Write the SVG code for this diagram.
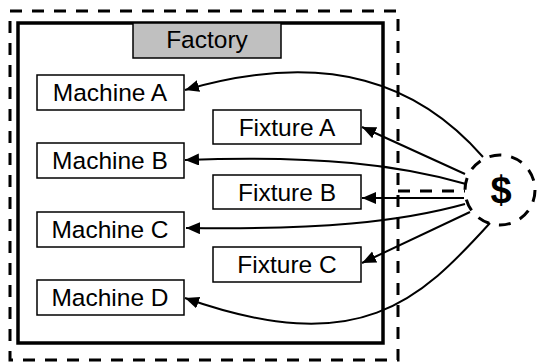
<svg xmlns="http://www.w3.org/2000/svg" width="537" height="362" viewBox="0 0 537 362">
  <style>
    .lbl { font-family: "Liberation Sans", Arial, sans-serif; font-size: 24.5px; fill: #000; text-anchor: middle; }
    .box { fill: #fff; stroke: #000; stroke-width: 1.5; }
    .title { fill: #c0c0c0; stroke: #000; stroke-width: 1.5; }
    .dash { fill: none; stroke: #000; stroke-width: 3; stroke-dasharray: 12 10; }
    .wire { fill: none; stroke: #000; stroke-width: 2; marker-end: url(#head); }
  </style>
  <defs>
    <marker id="head" markerUnits="userSpaceOnUse" markerWidth="16" markerHeight="14" refX="14" refY="6" orient="auto">
      <path d="M0,0 L14,6 L0,12 Z" fill="#000"/>
    </marker>
  </defs>

  <rect width="537" height="362" fill="#fff"/>

  <!-- outer boundary and link to the funding source -->
  <g id="boundary">
    <rect class="dash" x="10" y="11" width="388" height="349"/>
    <line class="dash" x1="398" y1="191" x2="465" y2="191"/>
  </g>

  <!-- factory container -->
  <g id="factory">
    <rect x="18" y="23" width="365" height="320" fill="none" stroke="#000" stroke-width="3.5"/>
    <rect class="title" x="133" y="23" width="148" height="35"/>
    <text class="lbl" x="207" y="48">Factory</text>
  </g>

  <g id="machine-a"><rect class="box" x="37" y="75" width="147" height="35"/><text class="lbl" x="110" y="100.5">Machine A</text></g>
  <g id="machine-b"><rect class="box" x="37" y="143" width="147" height="35"/><text class="lbl" x="110" y="168.5">Machine B</text></g>
  <g id="machine-c"><rect class="box" x="37" y="212" width="147" height="35"/><text class="lbl" x="110" y="237.5">Machine C</text></g>
  <g id="machine-d"><rect class="box" x="37" y="280" width="147" height="35"/><text class="lbl" x="110" y="305.5">Machine D</text></g>

  <g id="fixture-a"><rect class="box" x="213" y="110" width="148" height="34"/><text class="lbl" x="287" y="135.5">Fixture A</text></g>
  <g id="fixture-b"><rect class="box" x="213" y="175" width="148" height="34"/><text class="lbl" x="287" y="200.5">Fixture B</text></g>
  <g id="fixture-c"><rect class="box" x="213" y="247" width="148" height="35"/><text class="lbl" x="287" y="272.5">Fixture C</text></g>

  <!-- funding source -->
  <g id="money">
    <circle class="dash" cx="500" cy="190" r="35"/>
    <text x="501" y="203" font-family="Liberation Sans, Arial, sans-serif" font-size="38" font-weight="bold" text-anchor="middle">$</text>
  </g>

  <g id="connectors">
    <path class="wire" d="M483,157 C420,85 330,48 185,90"/>
    <path class="wire" d="M465,174 L362,127"/>
    <path class="wire" d="M466,184 C400,165 320,155 185,160"/>
    <path class="wire" d="M464,198 L362,198"/>
    <path class="wire" d="M465,204 C400,222 320,230 186,228"/>
    <path class="wire" d="M470,212 L362,263"/>
    <path class="wire" d="M490,223 C420,300 360,360 185,298"/>
  </g>
</svg>
